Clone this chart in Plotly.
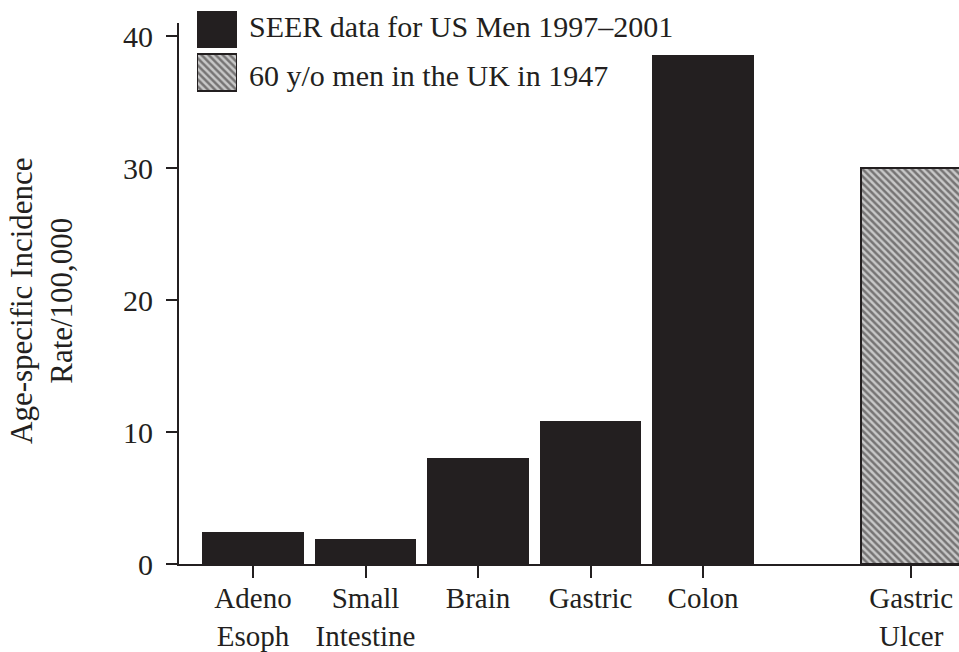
import plotly.graph_objects as go

# ---- data ----
seer_categories = ["Adeno<br>Esoph", "Small<br>Intestine", "Brain", "Gastric", "Colon"]
seer_values = [2.4, 1.9, 8.0, 10.8, 38.6]
uk_categories = ["Gastric<br>Ulcer"]
uk_values = [30.0]
seer_name = "SEER data for US Men 1997–2001"
uk_name = "60 y/o men in the UK in 1947"
y_title = "Age-specific Incidence<br>Rate/100,000"
y_ticks = [0, 10, 20, 30, 40]

INK = "#231f20"
FONT = "Liberation Serif, Times New Roman, serif"
HATCH_BG = "#c8c8c8"
HATCH = dict(shape="\\", fgcolor="#231f20", bgcolor=HATCH_BG, size=5, solidity=0.5)

seer_x = list(range(len(seer_values)))
uk_x = [len(seer_values) + 0.85]

fig = go.Figure()
fig.add_trace(go.Bar(
    x=seer_x, y=seer_values, width=0.9, name=seer_name,
    marker=dict(color=INK, line=dict(width=0)), showlegend=False,
))
fig.add_trace(go.Bar(
    x=uk_x, y=uk_values, width=0.9, name=uk_name,
    marker=dict(color=HATCH_BG, line=dict(color=INK, width=2), pattern=HATCH),
    showlegend=False,
))

# legend swatches drawn on a small overlay axis
fig.add_trace(go.Bar(
    x=[1], y=[1.5], orientation="h", width=0.84, xaxis="x2", yaxis="y2",
    marker=dict(color=INK, line=dict(width=0)), showlegend=False, hoverinfo="skip",
))
fig.add_trace(go.Bar(
    x=[1], y=[0.5], orientation="h", width=0.84, xaxis="x2", yaxis="y2",
    marker=dict(color=HATCH_BG, line=dict(color=INK, width=2), pattern=HATCH),
    showlegend=False, hoverinfo="skip",
))

fig.update_layout(
    width=959, height=652,
    margin=dict(l=179, r=0, t=0, b=88, autoexpand=False),
    plot_bgcolor="white", paper_bgcolor="white",
    font=dict(family=FONT, size=30, color=INK),
    bargap=0,
    barmode="overlay",
    xaxis=dict(
        range=[-0.658, 6.275],
        tickvals=seer_x + uk_x,
        ticktext=seer_categories + uk_categories,
        showline=True, linecolor=INK, linewidth=2,
        ticks="outside", ticklen=12, tickwidth=2, tickcolor=INK,
        showgrid=False, zeroline=False, automargin=False,
        ticklabelstandoff=-5,
        tickfont=dict(family=FONT, size=29, color=INK),
    ),
    yaxis=dict(
        domain=[0, 541 / 564],
        range=[0, 41],
        tickvals=y_ticks,
        showline=True, linecolor=INK, linewidth=2,
        ticks="outside", ticklen=11, tickwidth=2, tickcolor=INK,
        showgrid=False, zeroline=False, automargin=False,
        ticklabelstandoff=7,
        tickfont=dict(family=FONT, size=30, color=INK),
    ),
    xaxis2=dict(domain=[(197 - 179) / 780, (237 - 179) / 780], range=[0, 1],
                anchor="y2", visible=False, fixedrange=True),
    yaxis2=dict(domain=[(564 - 94) / 564, (564 - 8) / 564], range=[0, 2],
                anchor="x2", visible=False, fixedrange=True),
    annotations=[
        dict(text=seer_name, xref="paper", yref="paper",
             x=(247 - 179) / 780, y=(564 - 26) / 564, xanchor="left", yanchor="middle",
             showarrow=False, font=dict(family=FONT, size=30, color=INK)),
        dict(text=uk_name, xref="paper", yref="paper",
             x=(247 - 179) / 780, y=(564 - 76) / 564, xanchor="left", yanchor="middle",
             showarrow=False, font=dict(family=FONT, size=30, color=INK)),
        dict(text=y_title, xref="paper", yref="paper",
             x=(41 - 179) / 780, y=(564 - 301) / 564, xanchor="center", yanchor="middle",
             textangle=-90, showarrow=False,
             font=dict(family=FONT, size=31, color=INK)),
    ],
)

fig.write_html("out.html", config={"displayModeBar": False},
               post_script="document.body.style.margin='0';")
